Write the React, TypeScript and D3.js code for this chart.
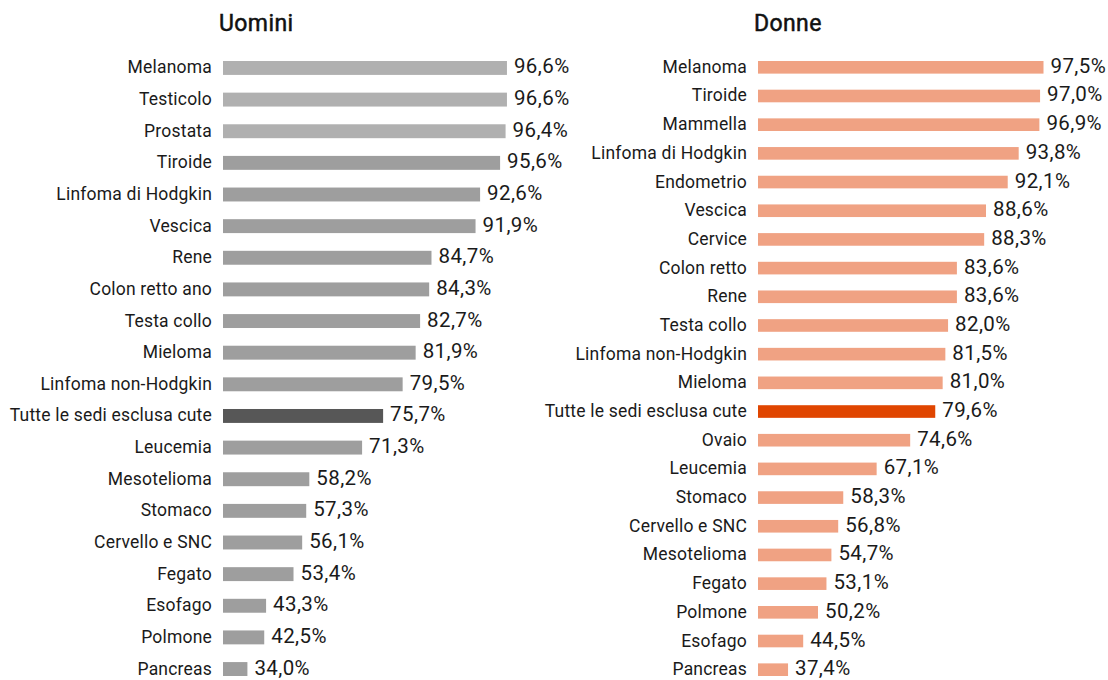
import * as d3 from "d3";

const menCategories = [
  "Melanoma", "Testicolo", "Prostata", "Tiroide", "Linfoma di Hodgkin", "Vescica",
  "Rene", "Colon retto ano", "Testa collo", "Mieloma", "Linfoma non-Hodgkin",
  "Tutte le sedi esclusa cute", "Leucemia", "Mesotelioma", "Stomaco",
  "Cervello e SNC", "Fegato", "Esofago", "Polmone", "Pancreas",
];
const menValues = [
  96.6, 96.6, 96.4, 95.6, 92.6, 91.9, 84.7, 84.3, 82.7, 81.9, 79.5,
  75.7, 71.3, 58.2, 57.3, 56.1, 53.4, 43.3, 42.5, 34.0,
];

const womenCategories = [
  "Melanoma", "Tiroide", "Mammella", "Linfoma di Hodgkin", "Endometrio", "Vescica",
  "Cervice", "Colon retto", "Rene", "Testa collo", "Linfoma non-Hodgkin", "Mieloma",
  "Tutte le sedi esclusa cute", "Ovaio", "Leucemia", "Stomaco", "Cervello e SNC",
  "Mesotelioma", "Fegato", "Polmone", "Esofago", "Pancreas",
];
const womenValues = [
  97.5, 97.0, 96.9, 93.8, 92.1, 88.6, 88.3, 83.6, 83.6, 82.0, 81.5, 81.0,
  79.6, 74.6, 67.1, 58.3, 56.8, 54.7, 53.1, 50.2, 44.5, 37.4,
];

const TOTAL = "Tutte le sedi esclusa cute";
const FONT = "Roboto, 'DejaVu Sans', sans-serif";
const fmt = (v: number) => v.toFixed(1).replace(".", ",") + "%";

type PanelProps = {
  title: string;
  categories: string[];
  values: number[];
  x0: number;
  y0: number;
  y1: number;
  width: number;
  color: (c: string, i: number) => string;
};

function Panel({ title, categories, values, x0, y0, y1, width, color }: PanelProps) {
  // bar lengths in the source are not linear in the value; a power scale follows them
  const x = d3.scalePow().exponent(2.35).domain([0, 100]).range([0, width]);
  const y = d3.scaleBand<string>().domain(categories).range([y0, y1]).paddingInner(0.56).paddingOuter(0);
  const bw = y.bandwidth();
  return (
    <g>
      <text x={x0 - 4} y={31} fontFamily={FONT} fontSize={23} fontWeight={400} fill="#111"
        stroke="#111" strokeWidth={0.5} letterSpacing={0.4}>
        {title}
      </text>
      {categories.map((c, i) => {
        const cy = (y(c) as number) + bw / 2;
        const w = x(values[i]);
        return (
          <g key={c}>
            <text x={x0 - 11} y={cy + 5.5} textAnchor="end" fontFamily={FONT} fontSize={17.5}
              letterSpacing={0.2} fill="#1a1a1a">
              {c}
            </text>
            <rect x={x0} y={y(c)} width={w} height={bw} fill={color(c, i)} />
            <text x={x0 + w + 7} y={cy + 5.5} fontFamily={FONT} fontSize={20.5} letterSpacing={0.4}
              fill="#1a1a1a">
              {fmt(values[i])}
            </text>
          </g>
        );
      })}
    </g>
  );
}

export default function App() {
  return (
    <svg width={1108} height={680} style={{ position: "absolute", left: 0, top: 0 }}>
      <rect width={1108} height={680} fill="#fff" />
      <Panel
        title="Uomini"
        categories={menCategories}
        values={menValues}
        x0={223}
        y0={61}
        y1={676}
        width={308}
        color={(c, i) => (c === TOTAL ? "#575757" : i < 3 ? "#b0b0b0" : "#9e9e9e")}
      />
      <Panel
        title="Donne"
        categories={womenCategories}
        values={womenValues}
        x0={758}
        y0={61}
        y1={676}
        width={303}
        color={(c) => (c === TOTAL ? "#e04500" : "#f0a283")}
      />
    </svg>
  );
}
